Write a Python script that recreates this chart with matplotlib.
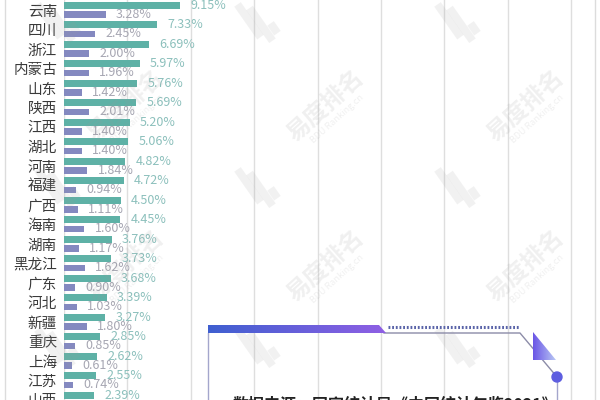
import numpy as np
import matplotlib.pyplot as plt
from matplotlib.patches import Polygon, Circle
from matplotlib.colors import LinearSegmentedColormap

plt.rcParams['font.family'] = ['Noto Sans CJK SC', 'DejaVu Sans']

provinces = ['云南', '四川', '浙江', '内蒙古', '山东', '陕西', '江西', '湖北', '河南', '福建', '广西',
             '海南', '湖南', '黑龙江', '广东', '河北', '新疆', '重庆', '上海', '江苏', '山西']
share_a = [9.15, 7.33, 6.69, 5.97, 5.76, 5.69, 5.20, 5.06, 4.82, 4.72, 4.50,
           4.45, 3.76, 3.73, 3.68, 3.39, 3.27, 2.85, 2.62, 2.55, 2.39]
share_b = [3.28, 2.45, 2.00, 1.96, 1.42, 2.01, 1.40, 1.40, 1.84, 0.94, 1.11,
           1.60, 1.17, 1.62, 0.90, 1.03, 1.80, 0.85, 0.61, 0.74, np.nan]
grid_ticks = [0, 5, 10, 15, 20, 25, 30, 35, 40]
source = '数据来源：国家统计局《中国统计年鉴2021》'

teal = '#5eb1a6'
purple = '#8489c0'

fig = plt.figure(figsize=(6, 4), dpi=100)
fig.patch.set_facecolor('white')

# main bar axes, placed in pixel terms
ax = fig.add_axes([64/600, 0, (595-64)/600, 1])
ax.set_xlim(0, (595-64)/12.68)
ax.set_ylim((400-10)/19.5, -10/19.5)
for s in ax.spines.values():
    s.set_visible(False)
ax.set_xticks(grid_ticks)
ax.tick_params(axis='x', length=0, labelbottom=False)
ax.grid(axis='x', color='#dedede', lw=1)
ax.set_axisbelow(True)

y = np.arange(len(provinces))
ax.barh(y - 0.25, share_a, height=0.37, color=teal)
ax.barh(y + 0.23, share_b, height=0.32, color=purple)
for i in range(len(provinces)):
    ax.text(share_a[i] + 0.8, i - 0.25, f'{share_a[i]:.2f}%', va='center', ha='left',
            fontsize=9, color='#8cc0bc')
    if not np.isnan(share_b[i]):
        ax.text(share_b[i] + 0.8, i + 0.23, f'{share_b[i]:.2f}%', va='center', ha='left',
                fontsize=9, color='#a6a6b2')
ax.set_yticks(y)
ax.set_yticklabels(provinces, fontsize=10.5, color='#3a3a3a')
ax.tick_params(axis='y', length=0, pad=5)

# overlay in pixel coordinates for frame, watermark and footer box
ov = fig.add_axes([0, 0, 1, 1], zorder=5)
ov.axis('off')
ov.patch.set_alpha(0)

ov.plot([5, 5], [0, 400], color='#dcdcdc', lw=1)
ov.plot([595, 595], [0, 400], color='#dcdcdc', lw=1)

# watermarks
for cx in [125, 325, 525]:
    for cy in [105, 265]:
        ov.text(cx, cy, '易度排名', rotation=42, fontsize=17, color='#9a9a9a', alpha=0.15,
                ha='center', va='center', fontweight='bold')
        ov.text(cx + 12, cy + 14, 'BDU Ranking.cn', rotation=42, fontsize=6.5, color='#9a9a9a',
                alpha=0.15, ha='center', va='center')
ux, uy = np.cos(np.radians(55)), np.sin(np.radians(55))
for lx in [63, 263, 463]:
    for ly in [25, 190, 350]:
        for dx, ln in [(-14, 20), (-2, 20), (11, 6)]:
            c = np.array([lx + dx, ly + dx * 0.3])
            d = np.array([ux, uy]) * ln
            w = np.array([-uy, ux]) * 4
            ov.add_patch(Polygon([c - d + w, c + d + w, c + d - w, c - d - w], closed=True,
                                 color='#9a9a9a', alpha=0.13, lw=0))

# footer box
line_c = '#a4a6cc'
ov.plot([208, 208], [333, 400], color=line_c, lw=1)
ov.plot([384, 520, 557], [333, 333, 377], color='#8c8ca8', lw=1)
ov.plot([557, 557], [382, 400], color=line_c, lw=1)
ov.plot([388, 520], [326.5, 326.5], color='#5a64a8', lw=2.2, ls=(0, (0.6, 0.6)))

grad = np.linspace(0, 1, 256).reshape(1, -1)
bar = Polygon([(208, 325), (379, 325), (386, 333), (208, 333)], closed=True, lw=0, fc='none')
ov.add_patch(bar)
im = ov.imshow(grad, extent=(208, 386, 333, 325), aspect='auto', zorder=6,
               cmap=LinearSegmentedColormap.from_list('b', ['#3f5fd0', '#8f5fe4']))
im.set_clip_path(bar)

tri = Polygon([(533, 332), (533, 360), (556, 360)], closed=True, lw=0, fc='none')
ov.add_patch(tri)
im2 = ov.imshow(grad, extent=(533, 556, 360, 332), aspect='auto', zorder=6,
                cmap=LinearSegmentedColormap.from_list('t', ['#6a55e6', '#b9c8f4']))
im2.set_clip_path(tri)
ov.add_patch(Circle((557, 377), 5, color='#5e5ee0', zorder=7))

ov.text(233, 404.5, source, fontsize=11.5, fontweight='bold', color='#222222', ha='left', va='center')
ov.set_xlim(0, 600)
ov.set_ylim(400, 0)

fig.savefig('out.png', dpi=100)
